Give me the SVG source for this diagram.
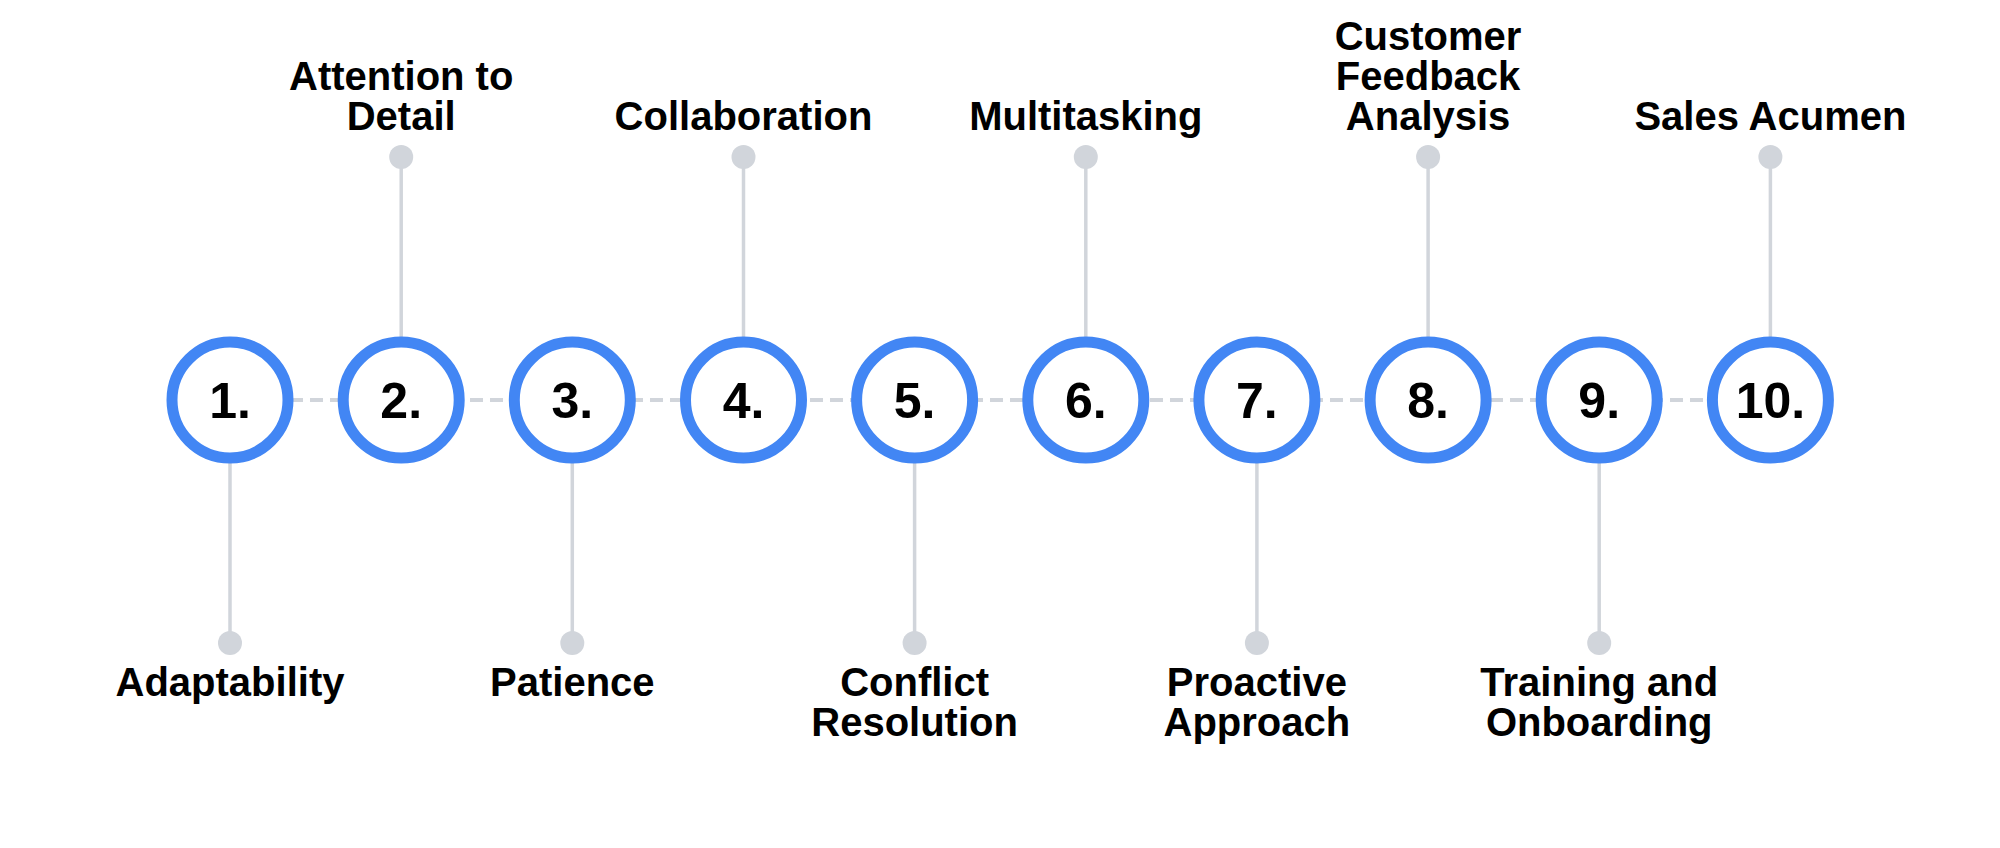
<svg xmlns="http://www.w3.org/2000/svg" width="2000" height="848" viewBox="0 0 2000 848">
<style>
.ring{fill:#fff;stroke:#4286f4;stroke-width:11}
.num{font-family:"Liberation Sans",Arial,sans-serif;font-weight:700;font-size:50px;fill:#000;text-anchor:middle}
.lbl{font-family:"Liberation Sans",Arial,sans-serif;font-weight:700;font-size:40px;fill:#000;text-anchor:middle}
.stem{stroke:#d1d5db;stroke-width:3.5;fill:none}
.dot{fill:#d1d5db}
.dash{stroke:#d1d5db;stroke-width:4;stroke-dasharray:13 7;fill:none}
</style>
<rect width="2000" height="848" fill="#fff"/>
<g id="connectors">
<line class="dash" x1="230" y1="400" x2="1770" y2="400"/>
<line class="stem" x1="230" y1="460" x2="230" y2="643"/><circle class="dot" cx="230" cy="643" r="12"/>
<line class="stem" x1="401.2" y1="340" x2="401.2" y2="157"/><circle class="dot" cx="401.2" cy="157" r="12"/>
<line class="stem" x1="572.3" y1="460" x2="572.3" y2="643"/><circle class="dot" cx="572.3" cy="643" r="12"/>
<line class="stem" x1="743.5" y1="340" x2="743.5" y2="157"/><circle class="dot" cx="743.5" cy="157" r="12"/>
<line class="stem" x1="914.6" y1="460" x2="914.6" y2="643"/><circle class="dot" cx="914.6" cy="643" r="12"/>
<line class="stem" x1="1085.8" y1="340" x2="1085.8" y2="157"/><circle class="dot" cx="1085.8" cy="157" r="12"/>
<line class="stem" x1="1256.9" y1="460" x2="1256.9" y2="643"/><circle class="dot" cx="1256.9" cy="643" r="12"/>
<line class="stem" x1="1428.1" y1="340" x2="1428.1" y2="157"/><circle class="dot" cx="1428.1" cy="157" r="12"/>
<line class="stem" x1="1599.2" y1="460" x2="1599.2" y2="643"/><circle class="dot" cx="1599.2" cy="643" r="12"/>
<line class="stem" x1="1770.4" y1="340" x2="1770.4" y2="157"/><circle class="dot" cx="1770.4" cy="157" r="12"/>
</g>
<g id="node1"><circle class="ring" cx="230" cy="400" r="58"/><text class="num" x="230" y="418">1.</text><text class="lbl" x="230" y="696">Adaptability</text></g>
<g id="node2"><circle class="ring" cx="401.2" cy="400" r="58"/><text class="num" x="401.2" y="418">2.</text><text class="lbl" x="401.2" y="90">Attention to</text><text class="lbl" x="401.2" y="130">Detail</text></g>
<g id="node3"><circle class="ring" cx="572.3" cy="400" r="58"/><text class="num" x="572.3" y="418">3.</text><text class="lbl" x="572.3" y="696">Patience</text></g>
<g id="node4"><circle class="ring" cx="743.5" cy="400" r="58"/><text class="num" x="743.5" y="418">4.</text><text class="lbl" x="743.5" y="130">Collaboration</text></g>
<g id="node5"><circle class="ring" cx="914.6" cy="400" r="58"/><text class="num" x="914.6" y="418">5.</text><text class="lbl" x="914.6" y="696">Conflict</text><text class="lbl" x="914.6" y="736">Resolution</text></g>
<g id="node6"><circle class="ring" cx="1085.8" cy="400" r="58"/><text class="num" x="1085.8" y="418">6.</text><text class="lbl" x="1085.8" y="130">Multitasking</text></g>
<g id="node7"><circle class="ring" cx="1256.9" cy="400" r="58"/><text class="num" x="1256.9" y="418">7.</text><text class="lbl" x="1256.9" y="696">Proactive</text><text class="lbl" x="1256.9" y="736">Approach</text></g>
<g id="node8"><circle class="ring" cx="1428.1" cy="400" r="58"/><text class="num" x="1428.1" y="418">8.</text><text class="lbl" x="1428.1" y="50">Customer</text><text class="lbl" x="1428.1" y="90">Feedback</text><text class="lbl" x="1428.1" y="130">Analysis</text></g>
<g id="node9"><circle class="ring" cx="1599.2" cy="400" r="58"/><text class="num" x="1599.2" y="418">9.</text><text class="lbl" x="1599.2" y="696">Training and</text><text class="lbl" x="1599.2" y="736">Onboarding</text></g>
<g id="node10"><circle class="ring" cx="1770.4" cy="400" r="58"/><text class="num" x="1770.4" y="418">10.</text><text class="lbl" x="1770.4" y="130">Sales Acumen</text></g>
</svg>
